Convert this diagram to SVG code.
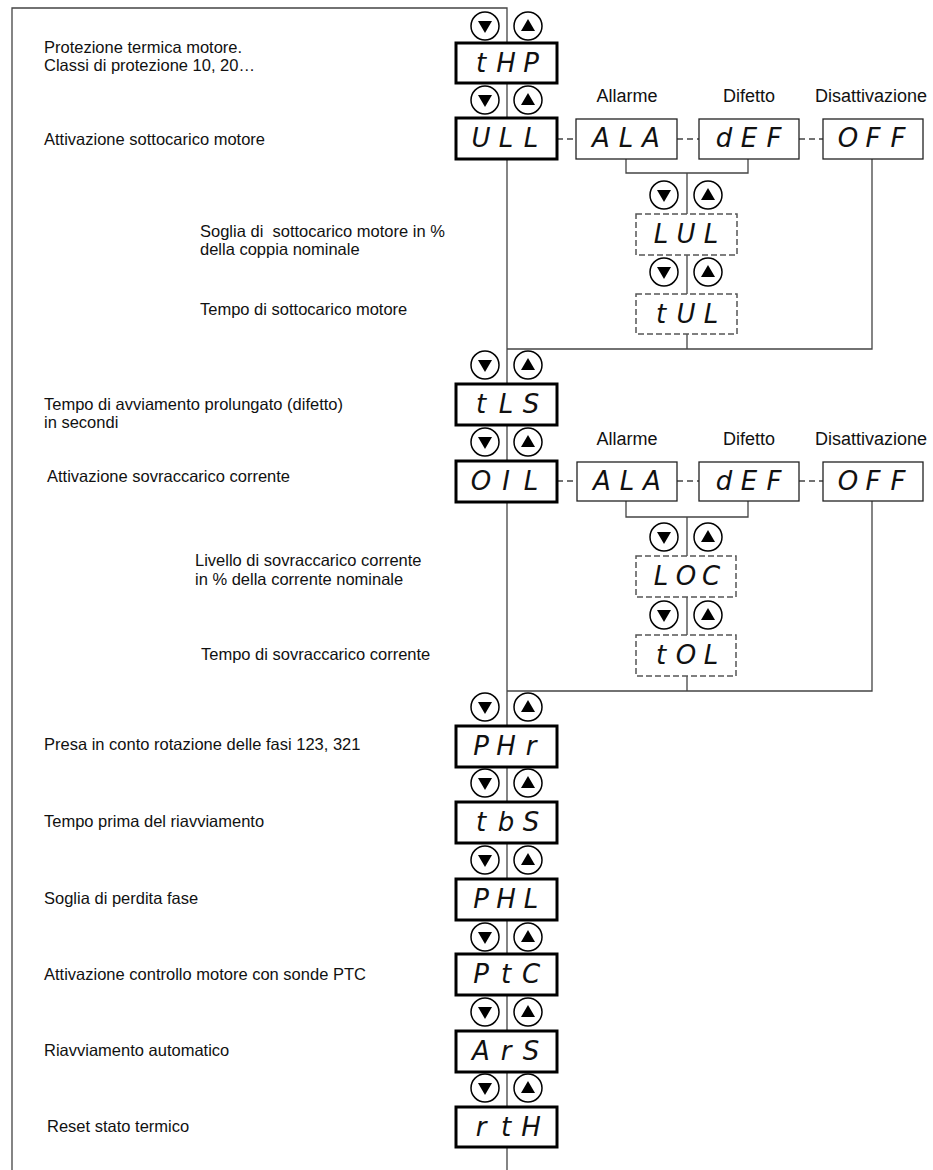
<svg xmlns="http://www.w3.org/2000/svg" xmlns:xlink="http://www.w3.org/1999/xlink" width="933" height="1170" viewBox="0 0 933 1170">
<style>
.lbl{font-family:"Liberation Sans",Arial,sans-serif;font-size:16.5px;fill:#111}
.opt{font-family:"Liberation Sans",Arial,sans-serif;font-size:18px;fill:#111;text-anchor:middle}
.seg{font-family:"DejaVu Sans","Liberation Sans",sans-serif;font-size:26px;font-weight:200;font-style:oblique;fill:#111;text-anchor:middle}
.mbox{fill:#fff;stroke:#000;stroke-width:3}
.obox{fill:#fff;stroke:#222;stroke-width:1.3}
.dbox{fill:#fff;stroke:#555;stroke-width:1.5;stroke-dasharray:6 3}
.ln{fill:none;stroke:#444;stroke-width:1.3}
.dl{fill:none;stroke:#444;stroke-width:1.3;stroke-dasharray:6 4}
</style>
<defs>
<g id="bd"><circle r="14" fill="#fff" stroke="#000" stroke-width="1.5"/><polygon points="-7,-5 7,-5 0,7" fill="#000"/></g>
<g id="bu"><circle r="14" fill="#fff" stroke="#000" stroke-width="1.5"/><polygon points="-7,5 7,5 0,-7" fill="#000"/></g>
</defs>
<g id="connectors">
<path class="ln" d="M12,1170 V8 H507 V1170"/>
<path class="dl" d="M557,139 H576 M677,139 H699 M799,139 H823"/>
<path class="ln" d="M626,159 V173 H748 V159 M687,173 V349 M507,349 H872 V159"/>
<path class="dl" d="M557,481 H577 M677,481 H699 M799,481 H823"/>
<path class="ln" d="M626,501 V517 H748 V501 M687,517 V691 M507,691 H872 V501"/>
</g>
<g id="buttons">
<use xlink:href="#bd" x="485" y="26"/><use xlink:href="#bu" x="528" y="26"/>
<use xlink:href="#bd" x="485" y="100"/><use xlink:href="#bu" x="528" y="100"/>
<use xlink:href="#bd" x="664" y="195"/><use xlink:href="#bu" x="708" y="195"/>
<use xlink:href="#bd" x="664" y="272"/><use xlink:href="#bu" x="708" y="272"/>
<use xlink:href="#bd" x="485" y="365"/><use xlink:href="#bu" x="528" y="365"/>
<use xlink:href="#bd" x="485" y="442"/><use xlink:href="#bu" x="528" y="442"/>
<use xlink:href="#bd" x="664" y="537"/><use xlink:href="#bu" x="708" y="537"/>
<use xlink:href="#bd" x="664" y="615"/><use xlink:href="#bu" x="708" y="615"/>
<use xlink:href="#bd" x="485" y="707"/><use xlink:href="#bu" x="528" y="707"/>
<use xlink:href="#bd" x="485" y="783"/><use xlink:href="#bu" x="528" y="783"/>
<use xlink:href="#bd" x="485" y="860"/><use xlink:href="#bu" x="528" y="860"/>
<use xlink:href="#bd" x="485" y="937"/><use xlink:href="#bu" x="528" y="937"/>
<use xlink:href="#bd" x="485" y="1012"/><use xlink:href="#bu" x="528" y="1012"/>
<use xlink:href="#bd" x="485" y="1088"/><use xlink:href="#bu" x="528" y="1088"/>
</g>
<g id="n-tHP"><rect class="mbox" x="456" y="43" width="101" height="40"/><text class="seg" x="481 506 531" y="72">tHP</text>
<text class="lbl" x="44" y="53">Protezione termica motore.</text><text class="lbl" x="44" y="71">Classi di protezione 10, 20…</text></g>
<g id="n-ULL"><rect class="mbox" x="456" y="118" width="101" height="41"/><text class="seg" x="481 506 531" y="147">ULL</text>
<text class="lbl" x="44" y="145">Attivazione sottocarico motore</text></g>
<g id="n-ALA1"><rect class="obox" x="576" y="119" width="101" height="40"/><text class="seg" x="601 626 651" y="147">ALA</text><text class="opt" x="627" y="102">Allarme</text></g>
<g id="n-dEF1"><rect class="obox" x="699" y="119" width="100" height="40"/><text class="seg" x="724 749 774" y="147">dEF</text><text class="opt" x="749" y="102">Difetto</text></g>
<g id="n-OFF1"><rect class="obox" x="823" y="119" width="100" height="40"/><text class="seg" x="848 873 898" y="147">OFF</text><text class="opt" x="871" y="102">Disattivazione</text></g>
<g id="n-LUL"><rect class="dbox" x="636" y="214" width="101" height="41"/><text class="seg" x="661 686 711" y="243">LUL</text>
<text class="lbl" x="200" y="237" style="white-space:pre">Soglia di  sottocarico motore in %</text><text class="lbl" x="200" y="255">della coppia nominale</text></g>
<g id="n-tUL"><rect class="dbox" x="636" y="294" width="101" height="40"/><text class="seg" x="661 686 711" y="323">tUL</text>
<text class="lbl" x="200" y="315">Tempo di sottocarico motore</text></g>
<g id="n-tLS"><rect class="mbox" x="456" y="384" width="101" height="41"/><text class="seg" x="481 506 531" y="413">tLS</text>
<text class="lbl" x="44" y="410">Tempo di avviamento prolungato (difetto)</text><text class="lbl" x="44" y="428">in secondi</text></g>
<g id="n-OIL"><rect class="mbox" x="456" y="461" width="101" height="41"/><text class="seg" x="481 506 531" y="490">OIL</text>
<text class="lbl" x="47" y="482">Attivazione sovraccarico corrente</text></g>
<g id="n-ALA2"><rect class="obox" x="577" y="462" width="100" height="39"/><text class="seg" x="602 627 652" y="490">ALA</text><text class="opt" x="627" y="445">Allarme</text></g>
<g id="n-dEF2"><rect class="obox" x="699" y="462" width="100" height="39"/><text class="seg" x="724 749 774" y="490">dEF</text><text class="opt" x="749" y="445">Difetto</text></g>
<g id="n-OFF2"><rect class="obox" x="823" y="462" width="100" height="39"/><text class="seg" x="848 873 898" y="490">OFF</text><text class="opt" x="871" y="445">Disattivazione</text></g>
<g id="n-LOC"><rect class="dbox" x="636" y="556" width="100" height="41"/><text class="seg" x="661 686 711" y="585">LOC</text>
<text class="lbl" x="195" y="566">Livello di sovraccarico corrente</text><text class="lbl" x="195" y="585">in % della corrente nominale</text></g>
<g id="n-tOL"><rect class="dbox" x="636" y="635" width="100" height="41"/><text class="seg" x="661 686 711" y="664">tOL</text>
<text class="lbl" x="201" y="660">Tempo di sovraccarico corrente</text></g>
<g id="n-PHr"><rect class="mbox" x="456" y="726" width="101" height="41"/><text class="seg" x="481 506 531" y="755">PHr</text>
<text class="lbl" x="44" y="750">Presa in conto rotazione delle fasi 123, 321</text></g>
<g id="n-tbS"><rect class="mbox" x="456" y="802" width="101" height="41"/><text class="seg" x="481 506 531" y="831">tbS</text>
<text class="lbl" x="44" y="827">Tempo prima del riavviamento</text></g>
<g id="n-PHL"><rect class="mbox" x="456" y="879" width="101" height="41"/><text class="seg" x="481 506 531" y="908">PHL</text>
<text class="lbl" x="44" y="904">Soglia di perdita fase</text></g>
<g id="n-PtC"><rect class="mbox" x="456" y="954" width="101" height="41"/><text class="seg" x="481 506 531" y="983">PtC</text>
<text class="lbl" x="44" y="980">Attivazione controllo motore con sonde PTC</text></g>
<g id="n-ArS"><rect class="mbox" x="456" y="1031" width="101" height="41"/><text class="seg" x="481 506 531" y="1060">ArS</text>
<text class="lbl" x="44" y="1056">Riavviamento automatico</text></g>
<g id="n-rtH"><rect class="mbox" x="456" y="1107" width="101" height="40"/><text class="seg" x="481 506 531" y="1136">rtH</text>
<text class="lbl" x="47" y="1132">Reset stato termico</text></g>
</svg>
